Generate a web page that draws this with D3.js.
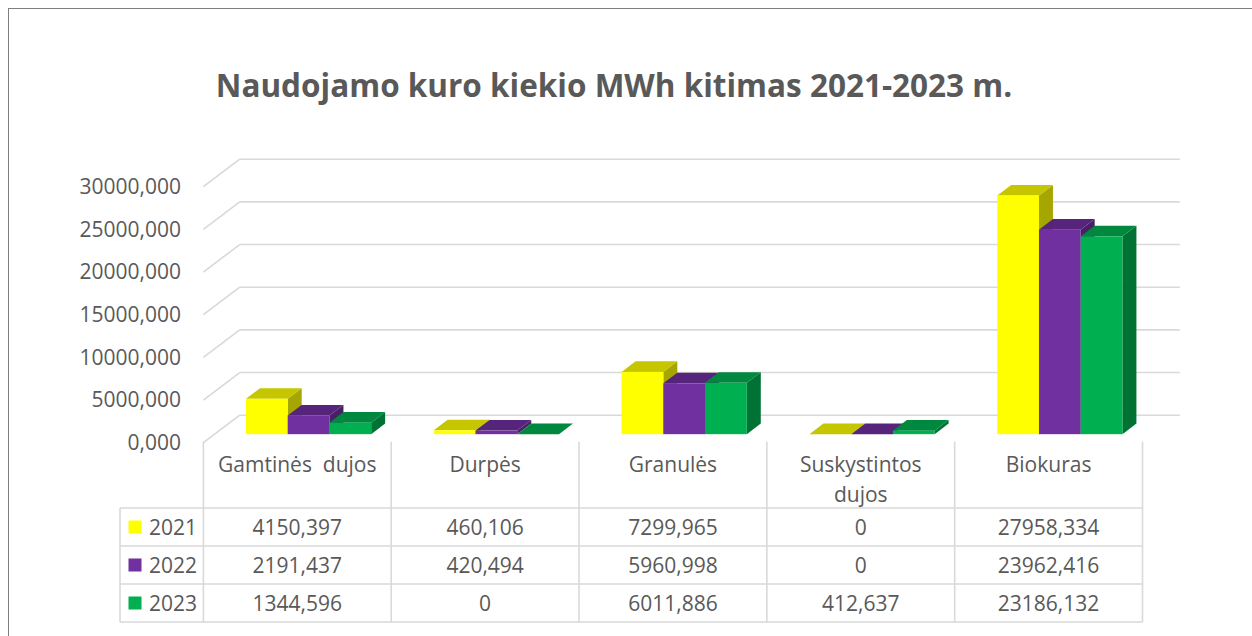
<!DOCTYPE html>
<html>
<head>
<meta charset="utf-8">
<script src="https://cdn.jsdelivr.net/npm/d3@7"></script>
<style>
  body { margin: 0; background: #fff; }
  svg { display: block; }
  text { font-family: "Open Sans", "Noto Sans", sans-serif; fill: #595959; }
</style>
</head>
<body>
<svg id="chart" width="1252" height="636"></svg>
<script>
// ---- data ----
const title = "Naudojamo kuro kiekio MWh kitimas 2021-2023 m.";
const categories = ["Gamtinės  dujos", "Durpės", "Granulės", "Suskystintos dujos", "Biokuras"];
const years = ["2021", "2022", "2023"];
const values2021 = [4150.397, 460.106, 7299.965, 0, 27958.334];
const values2022 = [2191.437, 420.494, 5960.998, 0, 23962.416];
const values2023 = [1344.596, 0, 6011.886, 412.637, 23186.132];
const yTicks = [0, 5000, 10000, 15000, 20000, 25000, 30000];
const seriesColors = ["#FFFF00", "#7030A0", "#00B050"];

const seriesValues = [values2021, values2022, values2023];

// ---- layout ----
const W = 1252, H = 636;
const svg = d3.select("#chart");
const gridColor = "#D9D9D9";
const textColor = "#595959";

const floorFrontY = 442.7;      // y of value 0 on the front plane
const depthDX = 36.3, depthDY = 27.5; // front -> back wall offset
const x0 = 203.4, x1 = 1142.5;
const legendX0 = 120;
const headerBottom = 508;
const rowH = 38;

const fmtCell = v => v === 0 ? "0" : d3.format(".3f")(v).replace(".", ",");
const fmtTick = v => d3.format(".3f")(v).replace(".", ",");

// frame
svg.append("rect").attr("x", 8.5).attr("y", 8.5).attr("width", W + 20).attr("height", H + 20)
  .attr("fill", "#fff").attr("stroke", "#7F7F7F").attr("stroke-width", 1);

// title
svg.append("text").attr("x", 614).attr("y", 97).attr("text-anchor", "middle")
  .style("font-size", "31.5px").style("font-weight", "bold").text(title);

// scales
const y = d3.scaleLinear().domain([0, 30000]).range([0, 256]);
const xCat = d3.scaleBand().domain(categories).range([x0, x1]);
const xSer = d3.scaleBand().domain(years).range([0, xCat.bandwidth()]).paddingInner(0).paddingOuter(0.75);

// back wall gridlines + side wall diagonals
const backY0 = floorFrontY - depthDY;
const grid = svg.append("g");
yTicks.forEach(t => {
  const yb = backY0 - y(t);
  grid.append("line").attr("x1", x0 + depthDX).attr("x2", x1 + depthDX + 1)
    .attr("y1", yb).attr("y2", yb).attr("stroke", gridColor).attr("stroke-width", 1.6);
  grid.append("line").attr("x1", x0 + depthDX).attr("y1", yb)
    .attr("x2", x0).attr("y2", yb + depthDY).attr("stroke", gridColor).attr("stroke-width", 1.6);
});

// y axis labels (front plane)
const yAxis = d3.axisLeft(d3.scaleLinear().domain([0, 30000]).range([floorFrontY, floorFrontY - 256]))
  .tickValues(yTicks).tickFormat(fmtTick).tickSize(0).tickPadding(0);
const yg = svg.append("g").attr("transform", "translate(181,0)").call(yAxis);
yg.select(".domain").remove();
yg.selectAll("text").style("font-size", "21px").style("font-family", "'Open Sans', sans-serif").attr("fill", textColor);

// bars (3D)
const dFront = 0.31, dBar = 0.385;
const sx = depthDX * dFront, sy = depthDY * dFront;
const bdx = depthDX * dBar, bdy = depthDY * dBar;
const bw = xSer.bandwidth();
const bars = svg.append("g");
categories.forEach((c, ci) => {
  years.forEach((yr, si) => {
    const v = seriesValues[si][ci];
    const bx = xCat(c) + xSer(yr) + sx;
    const base = floorFrontY - sy;
    const top = base - y(v);
    const col = d3.rgb(seriesColors[si]);
    const topCol = col.darker(0.73).formatHex();
    const sideCol = col.darker(1.2).formatHex();
    const g = bars.append("g");
    g.append("polygon").attr("points", [
      [bx + bw, top], [bx + bw + bdx, top - bdy], [bx + bw + bdx, base - bdy], [bx + bw, base]
    ].map(p => p.join(",")).join(" ")).attr("fill", sideCol);
    g.append("polygon").attr("points", [
      [bx, top], [bx + bw, top], [bx + bw + bdx, top - bdy], [bx + bdx, top - bdy]
    ].map(p => p.join(",")).join(" ")).attr("fill", topCol);
    g.append("rect").attr("x", bx).attr("y", top).attr("width", bw).attr("height", Math.max(0, base - top))
      .attr("fill", seriesColors[si]);
  });
});

// data table
const table = svg.append("g");
const tableBottom = headerBottom + rowH * years.length;
const bounds = categories.map(c => xCat(c)).concat([x1]);
bounds.forEach(bx => {
  table.append("line").attr("x1", bx).attr("x2", bx).attr("y1", floorFrontY - 1).attr("y2", tableBottom)
    .attr("stroke", gridColor).attr("stroke-width", 1.6);
});
table.append("line").attr("x1", legendX0).attr("x2", legendX0).attr("y1", headerBottom).attr("y2", tableBottom)
  .attr("stroke", gridColor).attr("stroke-width", 1.6);
for (let r = 0; r <= years.length; r++) {
  const yy = headerBottom + r * rowH;
  table.append("line").attr("x1", legendX0).attr("x2", x1).attr("y1", yy).attr("y2", yy)
    .attr("stroke", gridColor).attr("stroke-width", 1.6);
}

// category labels (wrap if needed)
categories.forEach(c => {
  const cx = xCat(c) + xCat.bandwidth() / 2;
  const t = table.append("text").attr("x", cx).attr("text-anchor", "middle")
    .style("font-size", "21px").style("white-space", "pre").text(c);
  let lines = [c];
  if (t.node().getComputedTextLength() > xCat.bandwidth() - 16) {
    const i = c.lastIndexOf(" ");
    lines = [c.slice(0, i), c.slice(i + 1)];
  }
  t.text(null);
  lines.forEach((ln, li) => {
    t.append("tspan").attr("x", cx).attr("y", 472 + li * 30).text(ln);
  });
});

// rows
years.forEach((yr, si) => {
  const cy = headerBottom + si * rowH + rowH / 2;
  table.append("rect").attr("x", 128.5).attr("y", cy - 6.5).attr("width", 13).attr("height", 13)
    .attr("fill", seriesColors[si]);
  table.append("text").attr("x", 149).attr("y", cy + 7.5).style("font-size", "21px").text(yr);
  categories.forEach((c, ci) => {
    table.append("text").attr("x", xCat(c) + xCat.bandwidth() / 2).attr("y", cy + 7.5)
      .attr("text-anchor", "middle").style("font-size", "21px").text(fmtCell(seriesValues[si][ci]));
  });
});
</script>
</body>
</html>
